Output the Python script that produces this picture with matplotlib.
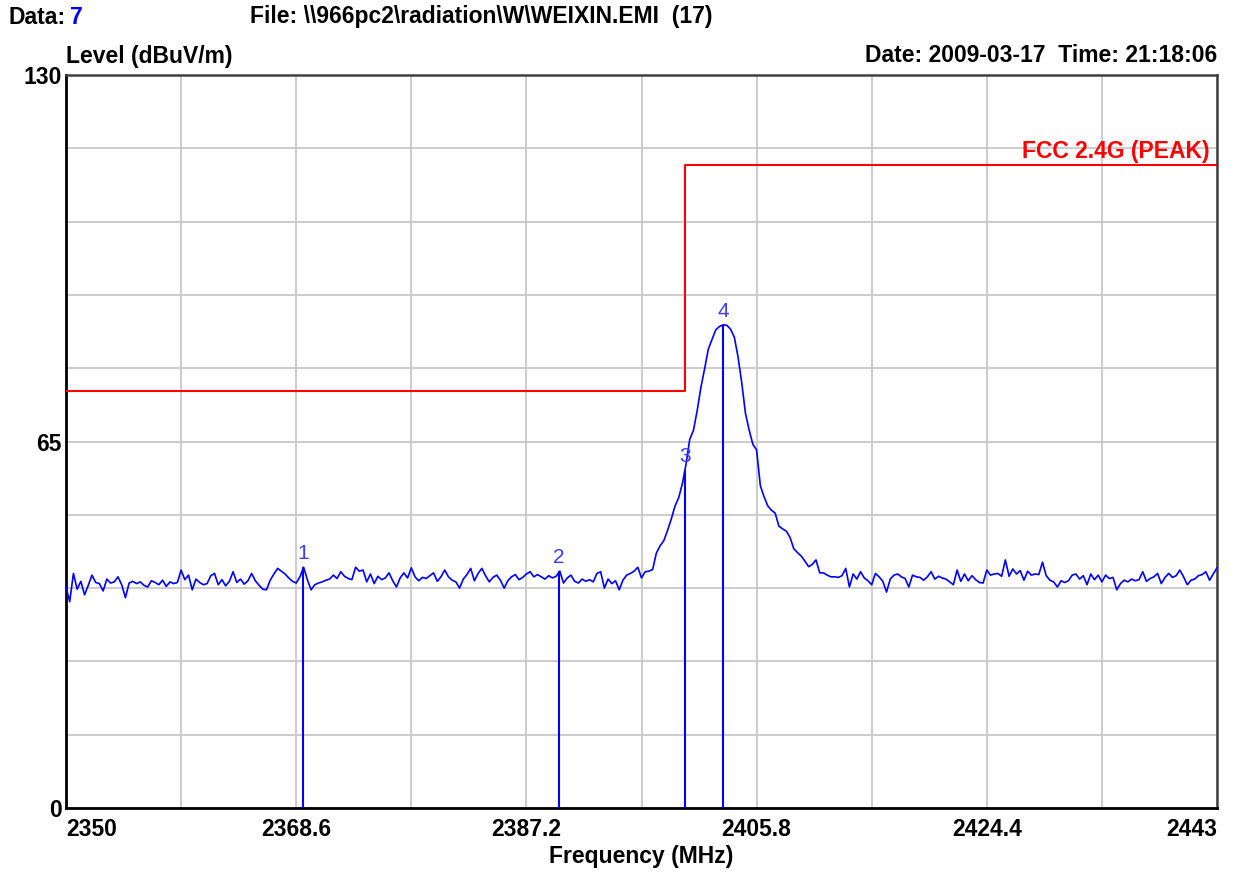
import matplotlib
matplotlib.use("Agg")
import numpy as np
import matplotlib.pyplot as plt

# Spectrum trace (dBuV/m), evenly spaced from 2350 to 2443 MHz
level = [
    39.2, 36.6, 41.6, 38.8, 40.2, 37.8, 39.5, 41.3, 40.0, 39.8,
    38.5, 40.6, 39.9, 40.1, 41.0, 39.6, 37.3, 39.9, 40.2, 39.8,
    40.1, 39.5, 39.2, 40.3, 40.0, 39.6, 40.4, 39.3, 40.1, 39.8,
    40.0, 42.2, 40.5, 41.3, 38.7, 40.6, 40.0, 39.6, 39.8, 41.2,
    41.6, 39.6, 40.5, 39.4, 40.2, 41.9, 40.0, 40.6, 39.7, 40.3,
    41.6, 40.3, 39.5, 38.8, 38.7, 40.4, 41.5, 42.5, 42.0, 41.5,
    40.8, 40.2, 39.9, 41.0, 42.7, 40.5, 38.7, 39.6, 39.9, 40.1,
    40.4, 40.6, 41.3, 40.7, 41.9, 41.1, 40.7, 40.5, 42.7, 42.0,
    42.2, 40.1, 41.5, 39.8, 41.1, 40.5, 40.8, 41.7, 40.3, 39.2,
    40.8, 41.7, 40.8, 42.6, 41.0, 40.3, 40.9, 40.7, 41.2, 41.7,
    40.2, 41.0, 42.2, 41.0, 40.4, 40.1, 39.0, 40.6, 41.4, 42.5,
    40.3, 41.6, 42.5, 41.2, 40.1, 40.9, 41.3, 40.4, 39.0, 40.3,
    41.0, 41.4, 40.5, 40.9, 41.5, 41.9, 41.0, 41.4, 41.0, 40.6,
    41.2, 40.8, 41.1, 42.0, 39.9, 40.8, 41.3, 40.2, 39.9, 40.6,
    40.2, 40.5, 40.1, 41.6, 41.9, 39.0, 40.6, 39.8, 40.3, 38.7,
    40.4, 41.3, 41.6, 42.0, 42.7, 40.8, 41.9, 42.0, 42.3, 45.2,
    46.5, 47.4, 49.2, 51.2, 53.5, 55.0, 57.5, 61.0, 65.4, 67.0,
    70.5, 74.6, 77.9, 81.4, 83.1, 84.8, 85.4, 85.7, 85.6, 84.9,
    83.5, 80.0, 75.4, 70.0, 67.0, 64.5, 63.5, 57.2, 55.2, 53.6,
    52.8, 52.3, 50.0, 49.5, 49.1, 48.0, 46.0, 45.3, 44.7, 43.8,
    42.8, 43.2, 44.0, 41.7, 41.7, 41.3, 41.0, 41.0, 40.9, 41.2,
    42.5, 39.2, 41.5, 40.6, 41.9, 40.8, 40.3, 39.6, 41.6, 41.0,
    40.2, 38.3, 40.6, 41.3, 41.5, 41.0, 40.7, 39.2, 41.3, 41.0,
    40.9, 40.4, 41.0, 41.9, 40.6, 41.1, 40.8, 40.6, 40.1, 39.6,
    42.2, 40.2, 41.5, 40.3, 41.2, 40.5, 40.0, 39.9, 42.2, 41.3,
    41.5, 41.6, 41.1, 44.0, 41.1, 42.4, 41.5, 42.1, 40.4, 42.0,
    41.3, 41.5, 41.4, 43.6, 41.2, 40.4, 40.1, 39.2, 40.3, 40.0,
    40.3, 41.3, 41.5, 40.6, 41.2, 39.6, 41.5, 40.5, 41.3, 40.1,
    41.3, 40.7, 40.9, 38.7, 39.8, 40.4, 40.1, 40.6, 40.3, 40.5,
    41.9, 40.2, 40.7, 41.0, 41.6, 39.8, 40.9, 41.6, 40.9, 41.2,
    42.2, 41.0, 39.6, 40.4, 40.6, 41.2, 41.4, 41.9, 40.4, 41.5,
    42.6,
]
freq = np.linspace(2350, 2443, len(level))

# FCC limit line (step at 2400 MHz)
limit_freq = [2350, 2400, 2400, 2443]
limit_level = [74, 74, 114, 114]

# markers
marker_ids = ["1", "2", "3", "4"]
marker_freq = [2369.15, 2389.85, 2400.0, 2403.1]
marker_level = [42.7, 42.0, 60.0, 85.7]

xticks = [2350, 2359.3, 2368.6, 2377.9, 2387.2, 2396.5, 2405.8, 2415.1, 2424.4, 2433.7, 2443]
xlabels = ["2350", "", "2368.6", "", "2387.2", "", "2405.8", "", "2424.4", "", "2443"]
yticks = [0, 13, 26, 39, 52, 65, 78, 91, 104, 117, 130]
ylabels = ["0", "", "", "", "", "65", "", "", "", "", "130"]

W, H = 1243, 873
FONT = "Liberation Sans"
FS = 16.5


def fx(x):
    return x / W


def fy(y):
    return 1 - y / H


fig = plt.figure(figsize=(W / 100, H / 100), dpi=100)
ax = fig.add_axes([fx(66), fy(808), fx(1217) - fx(66), fy(75) - fy(808)])

ax.set_xlim(2350, 2443)
ax.set_ylim(0, 130)
ax.set_xticks(xticks)
ax.set_xticklabels(xlabels, fontsize=FS, fontweight="bold", family=FONT)
ax.set_yticks(yticks)
ax.set_yticklabels(ylabels, fontsize=FS, fontweight="bold", family=FONT)
ax.tick_params(axis="x", length=0, pad=7)
ax.tick_params(axis="y", length=0, pad=3)
lbls = ax.get_xticklabels()
lbls[0].set_ha("left")
lbls[-1].set_ha("right")
ax.grid(True, color="#c8c8c8", linewidth=1.3)
ax.set_axisbelow(True)
for side in ["left", "bottom"]:
    ax.spines[side].set_color("black")
    ax.spines[side].set_linewidth(2)
for side in ["top", "right"]:
    ax.spines[side].set_color("#404040")
    ax.spines[side].set_linewidth(1.8)

ax.plot(freq, level, color="#0000ff", linewidth=1.2, zorder=3)
ax.plot(limit_freq, limit_level, color="#ff0000", linewidth=1.5, zorder=3)

for mid, mf, ml in zip(marker_ids, marker_freq, marker_level):
    ax.vlines(mf, 0, ml, color="#0000ff", linewidth=1.5, zorder=4)
    ax.annotate(mid, (mf, ml), xytext=(0, 3), textcoords="offset points",
                ha="center", va="bottom", fontsize=15, color="#3b3bff", family=FONT)

ax.text(2442.4, 114 + 1.2, "FCC 2.4G (PEAK)", color="#ff0000", fontsize=FS,
        fontweight="bold", ha="right", va="baseline", family=FONT)

ax.set_xlabel("Frequency (MHz)", fontsize=FS, fontweight="bold", family=FONT, labelpad=3)

# header texts
fig.text(fx(8), fy(17), "Data:", fontsize=FS, fontweight="bold", family=FONT, va="center")
fig.text(fx(70), fy(17), "7", fontsize=FS, fontweight="bold", family=FONT, va="center", color="#0000ff")
fig.text(fx(250), fy(17), "File: \\\\966pc2\\radiation\\W\\WEIXIN.EMI  (17)", fontsize=FS,
         fontweight="bold", family=FONT, va="center")
fig.text(fx(66), fy(56), "Level (dBuV/m)", fontsize=FS, fontweight="bold", family=FONT, va="center")
fig.text(fx(1217), fy(56), "Date: 2009-03-17  Time: 21:18:06", fontsize=FS, fontweight="bold",
         family=FONT, va="center", ha="right")

fig.savefig("out.png", dpi=100)
